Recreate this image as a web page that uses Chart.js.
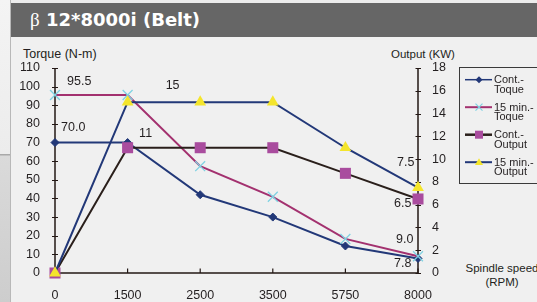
<!DOCTYPE html>
<html><head><meta charset="utf-8">
<script src="https://cdn.jsdelivr.net/npm/chart.js@4.4.1/dist/chart.umd.min.js"></script>
<style>
html,body{margin:0;padding:0;}
body{width:537px;height:302px;position:relative;overflow:hidden;background:#f0f0f0;font-family:"Liberation Sans",Arial,sans-serif;color:#231f20;}
#strip{position:absolute;left:0;top:0;width:10px;height:302px;background:linear-gradient(#f4f4f4 0,#ececec 154px,#a9a9a9 154px,#a9a9a9 155px,#dadada 156px,#cdcdcd 302px);}
#sep{position:absolute;left:10px;top:0;width:1px;height:302px;background:#b8b8b8;}
#topstrip{position:absolute;left:11px;top:0;width:526px;height:3px;background:#ececec;}
#bar{position:absolute;left:11px;top:3px;width:526px;height:34px;background:#666666;}
#title{position:absolute;left:30px;top:11px;color:#fff;font-size:18px;line-height:18px;white-space:nowrap;font-family:"DejaVu Sans",sans-serif;}
#title .beta{font-family:"Liberation Serif",serif;font-weight:normal;font-size:19px;}
#title b{font-weight:bold;}
.ax{position:absolute;white-space:nowrap;line-height:14px;}
#c{position:absolute;left:0;top:0;}
</style>
</head><body>
<div id="strip"></div><div id="sep"></div><div id="topstrip"></div>
<div id="bar"></div>
<div id="title"><span class="beta">β</span><b> 12*8000i (Belt)</b></div>
<div class="ax" style="left:23px;top:47px;font-size:12.5px;">Torque (N-m)</div>
<div class="ax" style="left:391px;top:47px;font-size:11.5px;">Output (KW)</div>
<div class="ax" style="left:462px;top:262px;width:80px;text-align:center;font-size:11.5px;line-height:13.5px;">Spindle speed<br>(RPM)</div>
<canvas id="c" width="537" height="302"></canvas>
<script>
// ---- data ----
const speeds = ['0', '1500', '2500', '3500', '5750', '8000'];
const contTorque = [70.0, 70.0, 42.0, 30.0, 14.5, 7.8];
const min15Torque = [95.5, 95.5, 57.3, 40.9, 18.3, 9.0];
const contOutput = [0, 11, 11, 11, 8.75, 6.5];
const min15Output = [0, 15, 15, 15, 11.0, 7.5];
const torqueRange = [0, 110];
const torqueStep = 10;
const outputRange = [0, 18];
const outputStep = 2;
const seriesNames = [['Cont.-', 'Toque'], ['15 min.-', 'Toque'], ['Cont.-', 'Output'], ['15 min.-', 'Output']];

// ---- styles ----
const FONT = "'Liberation Sans', Arial, sans-serif";
const TXT = '#231f20';
const NAVY = '#223878';
const MAG = '#a3316f';
const BLK = '#2a1f1b';
const PUR = '#a94c9e';
const YEL = '#f4e52c';
const CYAN = '#7fd2e2';
const AXIS = '#231815';

// value label placement (dataset index, point index, offsets)
const labelPlacement = [
  {ds: 1, i: 0, dx: 12, dy: -13, align: 'left', dec: 1},
  {ds: 0, i: 0, dx: 6, dy: -14.5, align: 'left', dec: 1},
  {ds: 3, i: 1, dx: 45, dy: -17, align: 'center', dec: 0},
  {ds: 2, i: 1, dx: 18, dy: -14, align: 'center', dec: 0},
  {ds: 3, i: 5, dx: -3.5, dy: -25, align: 'right', dec: 1},
  {ds: 2, i: 5, dx: -6.5, dy: 5, align: 'right', dec: 1},
  {ds: 1, i: 5, dx: -4.5, dy: -17, align: 'right', dec: 1},
  {ds: 0, i: 5, dx: -6.5, dy: 5.5, align: 'right', dec: 1}
];

function drawMarker(ctx, kind, x, y, s) {
  ctx.save();
  if (kind === 'diamond') {
    ctx.fillStyle = NAVY; ctx.beginPath();
    ctx.moveTo(x - s, y); ctx.lineTo(x, y - s); ctx.lineTo(x + s, y); ctx.lineTo(x, y + s); ctx.closePath(); ctx.fill();
  } else if (kind === 'x') {
    ctx.strokeStyle = CYAN; ctx.lineWidth = 1.2; ctx.beginPath();
    ctx.moveTo(x - s, y - s); ctx.lineTo(x + s, y + s); ctx.moveTo(x - s, y + s); ctx.lineTo(x + s, y - s); ctx.stroke();
  } else if (kind === 'square') {
    ctx.fillStyle = PUR; ctx.fillRect(x - s, y - s, 2 * s, 2 * s);
  } else if (kind === 'tri') {
    ctx.fillStyle = YEL; ctx.beginPath();
    ctx.moveTo(x, y - s); ctx.lineTo(x + s, y + s * 0.7); ctx.lineTo(x - s, y + s * 0.7); ctx.closePath(); ctx.fill();
  }
  ctx.restore();
}

const decor = {
  id: 'decor',
  beforeDatasetsDraw(chart) {
    const {ctx, chartArea: a, scales} = chart;
    ctx.save();
    ctx.strokeStyle = AXIS; ctx.lineWidth = 1.5;
    ctx.beginPath();
    ctx.moveTo(a.left, a.top); ctx.lineTo(a.left, a.bottom);
    ctx.moveTo(a.right, a.top); ctx.lineTo(a.right, a.bottom);
    ctx.moveTo(a.left, a.bottom); ctx.lineTo(a.right, a.bottom);
    ctx.stroke();
    ctx.lineWidth = 1.2;
    ctx.beginPath();
    scales.y.ticks.forEach((t, i) => { const p = Math.round(scales.y.getPixelForTick(i)) + 0.5; ctx.moveTo(a.left - 3, p); ctx.lineTo(a.left + 3, p); });
    scales.y1.ticks.forEach((t, i) => { const p = Math.round(scales.y1.getPixelForTick(i)) + 0.5; ctx.moveTo(a.right - 2.5, p); ctx.lineTo(a.right + 3, p); });
    scales.x.ticks.forEach((t, i) => { const p = scales.x.getPixelForTick(i); ctx.moveTo(p, a.bottom); ctx.lineTo(p, a.bottom - 4.5); });
    ctx.stroke();
    ctx.restore();
  },
  afterDraw(chart) {
    const {ctx} = chart;
    ctx.save();
    // value labels
    ctx.fillStyle = TXT;
    ctx.font = '12.5px ' + FONT;
    ctx.textBaseline = 'middle';
    labelPlacement.forEach(l => {
      const el = chart.getDatasetMeta(l.ds).data[l.i];
      const v = chart.data.datasets[l.ds].data[l.i];
      ctx.textAlign = l.align;
      ctx.fillText(v.toFixed(l.dec), el.x + l.dx, el.y + l.dy);
    });
    // legend
    ctx.strokeStyle = '#3a3a3a'; ctx.lineWidth = 1;
    ctx.strokeRect(459.5, 67.5, 100, 116);
    const lineCols = [NAVY, MAG, BLK, NAVY];
    const lineW = [1.5, 2, 2.5, 2];
    const marks = [['diamond', 3.5], ['x', 3.5], ['square', 4], ['tri', 4]];
    ctx.font = '11px ' + FONT;
    ctx.textAlign = 'left';
    ctx.textBaseline = 'alphabetic';
    seriesNames.forEach((n, k) => {
      const ly = 79.7 + 27.5 * k;
      ctx.strokeStyle = lineCols[k]; ctx.lineWidth = lineW[k];
      ctx.beginPath(); ctx.moveTo(465, ly); ctx.lineTo(492, ly); ctx.stroke();
      drawMarker(ctx, marks[k][0], 479, ly, marks[k][1]);
      ctx.fillStyle = TXT;
      ctx.fillText(n[0], 494, 83.2 + 27.6 * k);
      ctx.fillText(n[1], 494, 92.5 + 27.6 * k);
    });
    ctx.restore();
  }
};

const tickFont = {family: FONT, size: 12.5};
new Chart(document.getElementById('c'), {
  type: 'line',
  data: {
    labels: speeds,
    datasets: [
      {label: 'Cont. Toque', data: contTorque, yAxisID: 'y', borderColor: NAVY, borderWidth: 2,
       pointStyle: 'rectRot', pointRadius: 4, pointBackgroundColor: NAVY, pointBorderColor: NAVY, pointBorderWidth: 1, order: 4, clip: false},
      {label: '15 min. Toque', data: min15Torque, yAxisID: 'y', borderColor: MAG, borderWidth: 2,
       pointStyle: 'crossRot', pointRadius: 7, pointBackgroundColor: CYAN, pointBorderColor: CYAN, pointBorderWidth: 1.3, order: 3, clip: false},
      {label: 'Cont. Output', data: contOutput, yAxisID: 'y1', borderColor: BLK, borderWidth: 2,
       pointStyle: 'rect', pointRadius: 7.8, pointBackgroundColor: PUR, pointBorderColor: PUR, pointBorderWidth: 0, order: 2, clip: false},
      {label: '15 min. Output', data: min15Output, yAxisID: 'y1', borderColor: NAVY, borderWidth: 2,
       pointStyle: 'triangle', pointRadius: 6.8, pointBackgroundColor: YEL, pointBorderColor: YEL, pointBorderWidth: 0, order: 1, clip: false}
    ]
  },
  options: {
    responsive: false, animation: false, devicePixelRatio: 1,
    layout: {padding: {left: 0, right: 0, top: 68, bottom: 0}},
    plugins: {legend: {display: false}, tooltip: {enabled: false}},
    scales: {
      x: {type: 'category', offset: false, grid: {display: false, drawTicks: false}, border: {display: false},
          ticks: {padding: 15, color: TXT, font: tickFont, maxRotation: 0, autoSkip: false},
          afterFit: s => { s.height = 29; }},
      y: {position: 'left', min: torqueRange[0], max: torqueRange[1], grid: {display: false, drawTicks: false}, border: {display: false},
          ticks: {stepSize: torqueStep, padding: 15, color: TXT, font: tickFont},
          afterFit: s => { s.width = 55; }},
      y1: {position: 'right', min: outputRange[0], max: outputRange[1], grid: {display: false, drawTicks: false}, border: {display: false},
          ticks: {stepSize: outputStep, padding: 14, color: TXT, font: tickFont},
          afterFit: s => { s.width = 119; }}
    }
  },
  plugins: [decor]
});
</script>
</body></html>
